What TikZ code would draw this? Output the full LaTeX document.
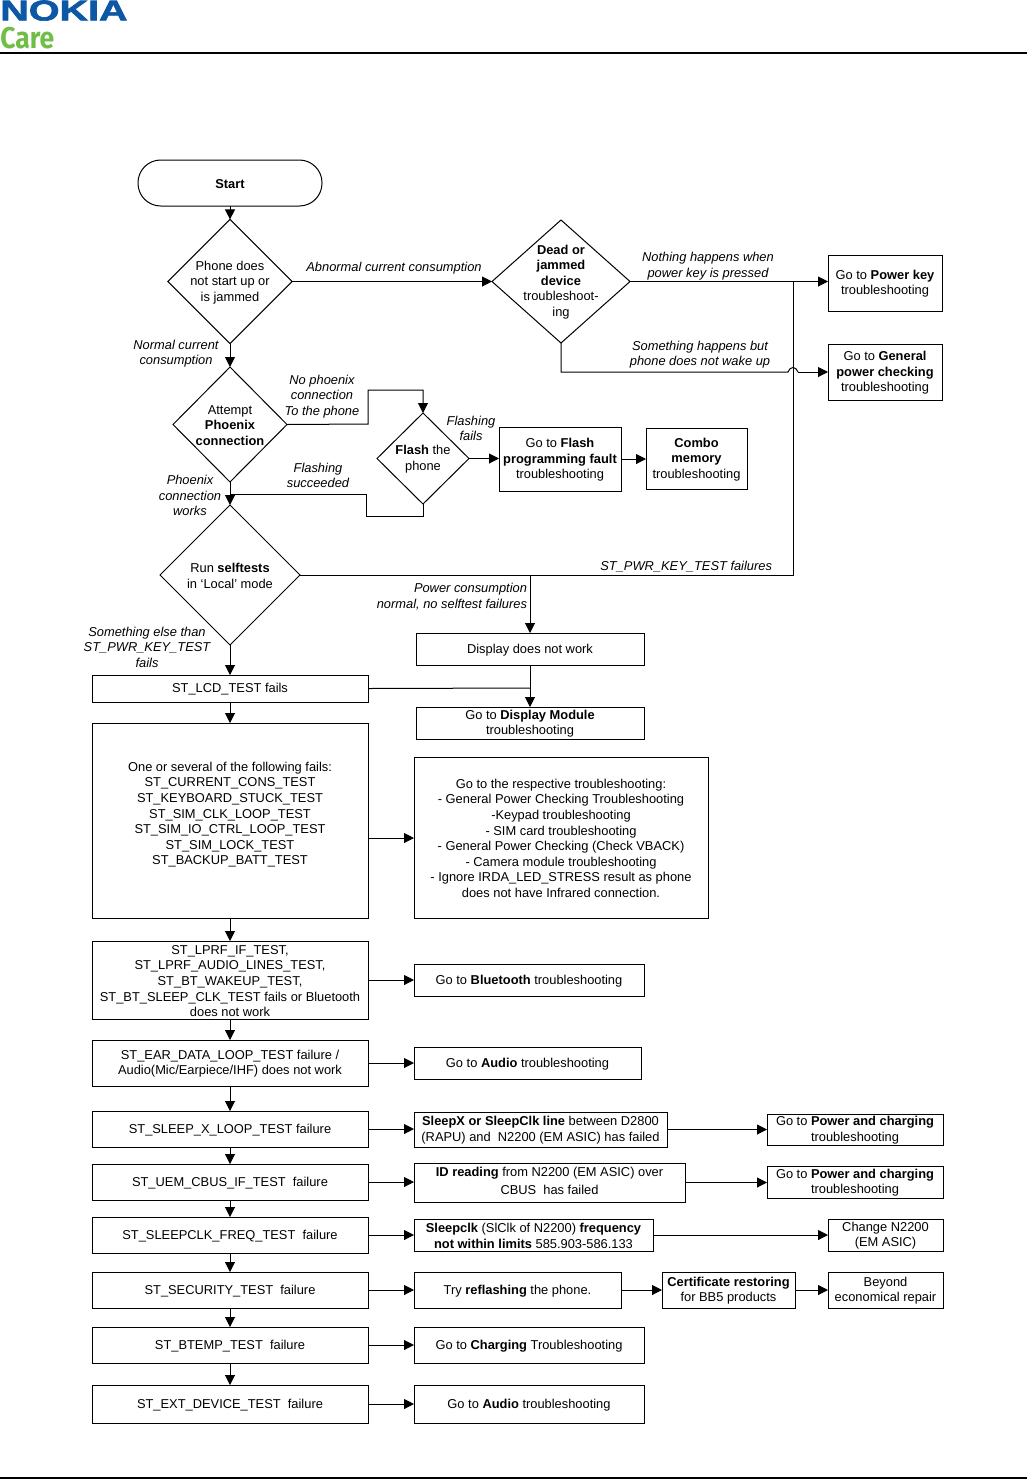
\documentclass[tikz,border=0pt]{standalone}
\usepackage{fontspec}
\usepackage{graphicx}
\setmainfont{Liberation Sans}
\newfontfamily\carefont{Fira Sans}
\newfontfamily\nokiafont[FakeBold=2]{Liberation Sans}
\usetikzlibrary{shapes.geometric,arrows.meta}
\definecolor{nokiablue}{RGB}{12,88,166}
\definecolor{caregreen}{RGB}{112,190,70}
\tikzset{
  box/.style={draw,rectangle,align=center,inner sep=0pt,outer sep=0pt,line width=.75pt,font=\fontsize{9.65}{11.7}\selectfont},
  startbox/.style={box,rounded corners=17pt},
  dia/.style={draw,diamond,align=center,inner sep=0pt,outer sep=0pt,line width=.75pt,font=\fontsize{9.65}{11.7}\selectfont},
  plain/.style={align=center,inner sep=0pt,outer sep=0pt,font=\fontsize{9.65}{11.7}\selectfont},
  lab/.style={align=center,inner sep=0pt,outer sep=0pt,font=\fontsize{9.65}{11.7}\selectfont\itshape},
  arr/.style={line width=.75pt,-{Triangle[length=7.5pt,width=7.5pt]}},
  lin/.style={line width=.75pt},
}
\newcommand{\bx}[7][box]{\node[#1,minimum width={(#5-#3)*0.75pt},minimum height={(#6-#4)*0.75pt}] (#2) at ({(#3+#5)/2},{(#4+#6)/2}) {\rule{0pt}{8.2pt}#7};}
\begin{document}
\begin{tikzpicture}[x=0.75pt,y=-0.75pt]
\useasboundingbox (0,0) rectangle (1027,1479);
% header
\node[inner sep=0pt,anchor=south west,text=nokiablue] (nokia) at (0,21) {\resizebox{95.5pt}{15pt}{\nokiafont\bfseries NOKIA}};
\node[inner sep=0pt,anchor=south west,text=caregreen] (care) at (0,49) {\resizebox{40.5pt}{16pt}{\carefont\bfseries Care}};
\coordinate (hl) at (0,53); \coordinate (hr) at (1027,53);
\draw[line width=1.5pt] (hl) -- (hr);
\coordinate (footl) at (0,1478); \coordinate (footr) at (1027,1478);
\draw[line width=1.2pt] (footl) -- (footr);
% nodes
\bx[startbox]{start}{138}{160}{322}{206}{\textbf{Start}}
\bx[dia]{d1}{168}{220}{292}{343}{Phone does\\not start up or\\is jammed}
\bx[dia]{d2}{492}{220}{630}{343}{}
\node[plain] (d2t) at (561,282) {\textbf{Dead or}\\\textbf{jammed}\\\textbf{device}\\troubleshoot-\\ing};
\bx{pk}{828}{255}{942}{311}{Go to \textbf{Power key}\\troubleshooting}
\bx{gen}{828}{344}{942}{400}{Go to \textbf{General}\\\textbf{power checking}\\troubleshooting}
\bx[dia]{d3}{173}{367}{287}{482}{Attempt\\\textbf{Phoenix}\\\textbf{connection}}
\bx[dia]{fl}{377}{413}{469}{504}{\textbf{Flash} the\\phone}
\bx{fp}{499}{427}{621}{491}{Go to \textbf{Flash}\\\textbf{programming fault}\\troubleshooting}
\bx{cm}{646}{428}{747}{489}{\textbf{Combo}\\\textbf{memory}\\troubleshooting}
\bx[dia]{d4}{160}{505}{300}{645}{Run \textbf{selftests}\\in ‘Local’ mode}
\bx{dn}{416}{633}{644}{665}{Display does not work}
\bx{lcd}{92}{675}{368}{702}{ST\_LCD\_TEST fails}
\bx{gd}{416}{707}{644}{739}{Go to \textbf{Display Module}\\troubleshooting}
\bx{one}{92}{723}{368}{918}{One or several of the following fails:\\ST\_CURRENT\_CONS\_TEST\\ST\_KEYBOARD\_STUCK\_TEST\\ST\_SIM\_CLK\_LOOP\_TEST\\ST\_SIM\_IO\_CTRL\_LOOP\_TEST\\ST\_SIM\_LOCK\_TEST\\ST\_BACKUP\_BATT\_TEST\\\mbox{}}
\bx{resp}{414}{757}{708}{918}{Go to the respective troubleshooting:\\- General Power Checking Troubleshooting\\-Keypad troubleshooting\\- SIM card troubleshooting\\- General Power Checking (Check VBACK)\\- Camera module troubleshooting\\- Ignore IRDA\_LED\_STRESS result as phone\\does not have Infrared connection.}
\bx{lprf}{92}{941}{368}{1019}{ST\_LPRF\_IF\_TEST,\\ST\_LPRF\_AUDIO\_LINES\_TEST,\\ST\_BT\_WAKEUP\_TEST,\\ST\_BT\_SLEEP\_CLK\_TEST fails or Bluetooth\\does not work}
\bx{bt}{414}{964}{644}{996}{Go to \textbf{Bluetooth} troubleshooting}
\bx{ear}{92}{1040}{368}{1086}{ST\_EAR\_DATA\_LOOP\_TEST failure /\\Audio(Mic/Earpiece/IHF) does not work}
\bx{au}{414}{1047}{641}{1079}{Go to \textbf{Audio} troubleshooting}
\bx{slx}{92}{1111}{368}{1147}{ST\_SLEEP\_X\_LOOP\_TEST failure}
\bx{sxl}{414}{1112}{667}{1147}{\textbf{SleepX or SleepClk line} between D2800\\(RAPU) and~ N2200 (EM ASIC) has failed}
\bx{pc}{767}{1114}{943}{1145}{Go to \textbf{Power and charging}\\troubleshooting}
\bx{uem}{92}{1164}{368}{1200}{ST\_UEM\_CBUS\_IF\_TEST~ failure}
\bx{id}{414}{1163}{685}{1202}{\textbf{ID reading} from N2200 (EM ASIC) over\\[2pt]CBUS~ has failed\\[-8pt]\mbox{}}
\bx{pcb}{767}{1166}{943}{1198}{Go to \textbf{Power and charging}\\troubleshooting}
\bx{scf}{92}{1217}{368}{1253}{ST\_SLEEPCLK\_FREQ\_TEST~ failure}
\bx{scl}{414}{1219}{653}{1251}{\textbf{Sleepclk} (SlClk of N2200) \textbf{frequency}\\\textbf{not within limits} 585.903-586.133}
\bx{chg}{828}{1219}{943}{1251}{Change N2200\\(EM ASIC)}
\bx{sec}{92}{1272}{368}{1308}{ST\_SECURITY\_TEST~ failure}
\bx{try}{414}{1272}{621}{1308}{Try \textbf{reflashing} the phone.}
\bx{cert}{662}{1272}{795}{1308}{\textbf{Certificate restoring}\\for BB5 products}
\bx{bey}{828}{1272}{943}{1308}{Beyond\\economical repair}
\bx{bte}{92}{1327}{368}{1363}{ST\_BTEMP\_TEST~ failure}
\bx{chr}{414}{1327}{644}{1363}{Go to \textbf{Charging} Troubleshooting}
\bx{ext}{92}{1385}{368}{1423}{ST\_EXT\_DEVICE\_TEST~ failure}
\bx{aub}{414}{1385}{644}{1423}{Go to \textbf{Audio} troubleshooting}
% labels
\node[lab] (l1) at (394,268.5) {Abnormal current consumption};
\node[lab] (l2) at (708,266) {Nothing happens when\\power key is pressed};
\node[lab] (l3) at (700,354.5) {Something happens but\\phone does not wake up};
\node[lab] (l4) at (176,353.5) {Normal current\\consumption};
\node[lab] (l5) at (322,396.5) {No phoenix\\connection\\To the phone};
\node[lab] (l6) at (471,428.5) {Flashing\\fails};
\node[lab] (l7) at (318,475.5) {Flashing\\succeeded};
\node[lab] (l8) at (190,495.5) {Phoenix\\connection\\works};
\node[lab,anchor=east] (l9) at (772,566.5) {ST\_PWR\_KEY\_TEST failures};
\node[lab,align=right,anchor=east] (l10) at (527,596.5) {Power consumption\\normal, no selftest failures};
\node[lab] (l11) at (147,647) {Something else than\\ST\_PWR\_KEY\_TEST\\fails};
% connectors
\coordinate (j1) at (793,575);
\coordinate (j2) at (793,282);
\coordinate (j3) at (530,575);
\coordinate (j4) at (530,688);
\coordinate (h1) at (788,372);
\coordinate (h2) at (798,372);
\coordinate (b1) at (368,390);
\coordinate (b2) at (368,424);
\coordinate (c1) at (423,516);
\coordinate (c2) at (366,516);
\coordinate (c3) at (366,494);
\coordinate (c4) at (230,494);
\draw[arr] (start) -- (d1);
\draw[arr] (d1) -- (d3);
\draw[arr] (d1.east) -- (d2.west);
\draw[arr] (d2.east) -- (d2.east -| pk.west);
\draw[lin] (d2.south) |- (h1) .. controls (790,366) and (796,366) .. (h2);
\draw[arr] (h2) -- (gen.west);
\draw[arr] (d3.east) -- (b2) -- (b1) -| (fl.north);
\draw[arr] (d3.south) -- (d4.north);
\draw[lin] (fl.south) -- (c1) -- (c2) -- (c3) -- (c4);
\draw[arr] (fl.east) -- (fl.east -| fp.west);
\draw[arr] (fp.east) -- (fp.east -| cm.west);
\draw[lin] (d4.east) -- (j1) -- (j2);
\draw[arr] (j3) -- (dn.north);
\draw[arr] (d4.south) -- (lcd.north);
\draw[lin] (lcd.east) -- (j4);
\draw[arr] (dn.south) -- (gd.north);
\draw[arr] (lcd) -- (one);
\draw[arr] (one) -- (lprf);
\draw[arr] (lprf) -- (ear);
\draw[arr] (ear) -- (slx);
\draw[arr] (slx) -- (uem);
\draw[arr] (uem) -- (scf);
\draw[arr] (scf) -- (sec);
\draw[arr] (sec) -- (bte);
\draw[arr] (bte) -- (ext);
\coordinate (o1) at (368,838);
\draw[arr] (o1) -- (o1 -| resp.west);
\draw[arr] (lprf.east) -- (lprf.east -| bt.west);
\draw[arr] (ear.east) -- (ear.east -| au.west);
\draw[arr] (slx.east) -- (slx.east -| sxl.west);
\draw[arr] (sxl.east) -- (sxl.east -| pc.west);
\draw[arr] (uem.east) -- (uem.east -| id.west);
\draw[arr] (id.east) -- (id.east -| pcb.west);
\draw[arr] (scf.east) -- (scf.east -| scl.west);
\draw[arr] (scl.east) -- (scl.east -| chg.west);
\draw[arr] (sec.east) -- (try.west);
\draw[arr] (try.east) -- (cert.west);
\draw[arr] (cert.east) -- (bey.west);
\draw[arr] (bte.east) -- (chr.west);
\draw[arr] (ext.east) -- (aub.west);
\end{tikzpicture}
\end{document}
